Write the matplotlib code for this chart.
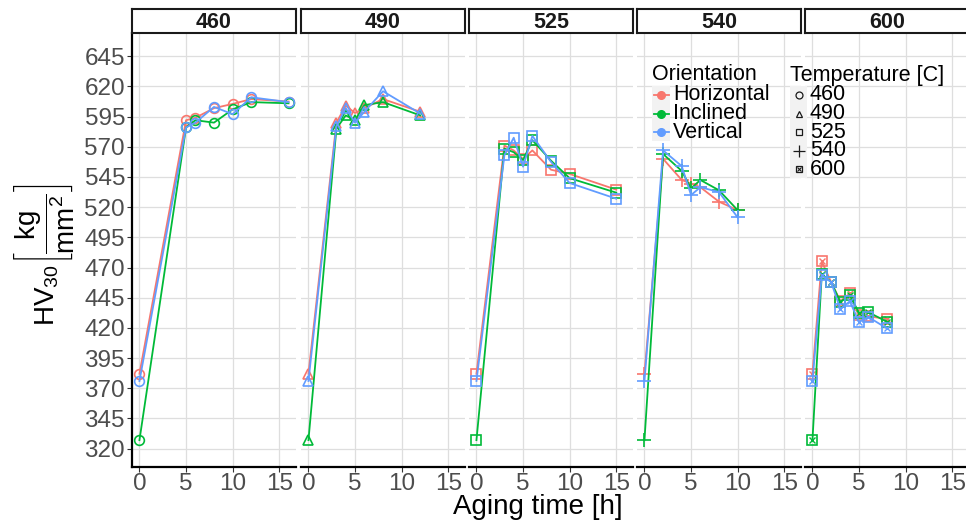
import matplotlib
matplotlib.use("Agg")
import matplotlib.pyplot as plt
from matplotlib.lines import Line2D
from matplotlib.patches import Rectangle

plt.rcParams['font.family'] = ['Liberation Sans', 'DejaVu Sans']
plt.rcParams['mathtext.fontset'] = 'custom'
plt.rcParams['mathtext.rm'] = 'Liberation Sans'
plt.rcParams['mathtext.it'] = 'Liberation Sans:italic'
plt.rcParams['mathtext.bf'] = 'Liberation Sans:bold'

# ---- data: hardness HV30 vs aging time, per aging temperature ----
temperatures = ["460", "490", "525", "540", "600"]
orientations = ["Horizontal", "Inclined", "Vertical"]

time_460 = [0, 5, 6, 8, 10, 12, 16]
hv_460_horizontal = [382, 592, 594, 602, 605.5, 609.5, 607.5]
hv_460_inclined = [327, 586, 592, 590, 601, 607, 606]
hv_460_vertical = [376, 586, 590, 603, 597, 611, 607]

time_490 = [0, 3, 4, 5, 6, 8, 12]
hv_490_horizontal = [382, 590, 604, 598, 602, 609.5, 599]
hv_490_inclined = [327, 585, 596, 592, 604.5, 607, 596]
hv_490_vertical = [376, 587, 602, 590, 599, 616, 597.5]

time_525 = [0, 3, 4, 5, 6, 8, 10, 15]
hv_525_horizontal = [382, 571, 567, 560, 567, 551, 547.5, 534.5]
hv_525_inclined = [327, 568.5, 565.5, 559, 575.5, 558.5, 544, 532]
hv_525_vertical = [376, 563, 577.5, 553.5, 579, 557.5, 540, 527]

time_540 = [0, 2, 4, 5, 6, 8, 10]
hv_540_horizontal = [382, 560, 542.5, 539.5, 536.5, 524.5, 517.5]
hv_540_inclined = [327, 564, 550, 535.5, 542.5, 534, 517.5]
hv_540_vertical = [376, 567, 554, 530, 536.5, 532.5, 511.5]

time_600 = [0, 1, 2, 3, 4, 5, 6, 8]
hv_600_horizontal = [382, 475, 458, 442, 448.5, 430.5, 429.5, 427.5]
hv_600_inclined = [327, 464.5, 458, 441.5, 447, 432.5, 433, 425]
hv_600_vertical = [376, 463.5, 458, 435.5, 442, 425, 429, 419.5]

x_ticks = [0, 5, 10, 15]
y_ticks = list(range(320, 646, 25))

panels = {
    "460": (time_460, [hv_460_horizontal, hv_460_inclined, hv_460_vertical]),
    "490": (time_490, [hv_490_horizontal, hv_490_inclined, hv_490_vertical]),
    "525": (time_525, [hv_525_horizontal, hv_525_inclined, hv_525_vertical]),
    "540": (time_540, [hv_540_horizontal, hv_540_inclined, hv_540_vertical]),
    "600": (time_600, [hv_600_horizontal, hv_600_inclined, hv_600_vertical]),
}

colors = ["#F8766D", "#00BA38", "#619CFF"]
shapes = {"460": "o", "490": "^", "525": "s", "540": "+", "600": "s"}

W, H = 966, 522
fig = plt.figure(figsize=(W / 100, H / 100), dpi=100)
fig.patch.set_facecolor("white")

panel_left = [132, 301, 469, 637, 805]
panel_w = 164
panel_top, panel_bot = 33.3, 466.7
strip_top = 8.5

tick_color = "#4D4D4D"
grid_color = "#DEDEDE"
tick_fs = 17.5

for i, temp in enumerate(temperatures):
    x0 = panel_left[i]
    ax = fig.add_axes([x0 / W, 1 - panel_bot / H, panel_w / W, (panel_bot - panel_top) / H])
    ax.set_xlim(-0.8, 16.8)
    ax.set_ylim(305, 664)
    ax.set_xticks(x_ticks)
    ax.set_yticks(y_ticks)
    ax.grid(True, color=grid_color, linewidth=0.9)
    ax.set_axisbelow(True)
    for s in ["top", "right"]:
        ax.spines[s].set_visible(False)
    ax.spines["bottom"].set_color("black")
    ax.spines["bottom"].set_linewidth(1.6)
    if i == 0:
        ax.spines["left"].set_color("black")
        ax.spines["left"].set_linewidth(1.6)
        ax.tick_params(axis="y", labelsize=tick_fs, labelcolor=tick_color, color="#333333",
                       length=3.5, width=0.8, pad=1.5)
    else:
        ax.spines["left"].set_visible(False)
        ax.tick_params(axis="y", left=False, labelleft=False)
    ax.tick_params(axis="x", labelsize=tick_fs, labelcolor=tick_color, color="#333333",
                   length=3.5, width=0.8, pad=1.0)

    t, series = panels[temp]
    mk = shapes[temp]
    for vals, c in zip(series, colors):
        ax.plot(t, vals, color=c, linewidth=1.3, marker=mk, markersize=7 if mk != "+" else 10,
                markerfacecolor="none", markeredgecolor=c, markeredgewidth=1.2, clip_on=False,
                zorder=3)
        if temp == "600":
            ax.plot(t, vals, linestyle="none", marker="x", markersize=4.2,
                    markeredgecolor=c, markeredgewidth=1.0, zorder=3)

    # facet strip
    sax = fig.add_axes([x0 / W, 1 - panel_top / H, panel_w / W, (panel_top - strip_top) / H])
    sax.set_xticks([])
    sax.set_yticks([])
    sax.set_facecolor("white")
    for s in sax.spines.values():
        s.set_color("#1A1A1A")
        s.set_linewidth(1.5)
    sax.text(0.5, 0.45, temp, ha="center", va="center", fontsize=15.5, fontweight="bold",
             transform=sax.transAxes, color="#1A1A1A")

# axis titles
fig.text(538 / W, 1 - 507 / H, "Aging time [h]", ha="center", va="center", fontsize=20)
fig.text(44 / W, 1 - 255 / H,
         r"$\mathrm{HV}_{30}\left[\dfrac{\mathrm{kg}}{\mathrm{mm}^2}\right]$",
         ha="center", va="center", rotation=90, fontsize=20)


# ---- legends drawn in figure pixel coordinates ----
def fx(px):
    return px / W


def fy(py):
    return 1 - py / H


key_bg = "#F2F2F2"
leg_fs = 15.5

# Orientation legend
fig.text(fx(652), fy(75), "Orientation", ha="left", va="center", fontsize=leg_fs)
row_y = [95, 113.5, 132]
fig.patches.append(Rectangle((fx(652), fy(141)), (670 - 652) / W, (141 - 86) / H,
                             transform=fig.transFigure, facecolor=key_bg, edgecolor="none",
                             zorder=5))
for name, c, yy in zip(orientations, colors, row_y):
    fig.lines.append(Line2D([fx(653.5), fx(668.5)], [fy(yy), fy(yy)], color=c, linewidth=1.3,
                            transform=fig.transFigure, zorder=6))
    fig.lines.append(Line2D([fx(661)], [fy(yy)], marker="o", markersize=5.5, color=c,
                            transform=fig.transFigure, zorder=7))
    fig.text(fx(673), fy(yy), name, ha="left", va="center", fontsize=leg_fs, zorder=7)

# Temperature legend
fig.text(fx(790), fy(75), "Temperature [C]", ha="left", va="center", fontsize=leg_fs)
temp_y = [95, 113.5, 132, 150.5, 169]
fig.patches.append(Rectangle((fx(790), fy(178)), (807 - 790) / W, (178 - 86) / H,
                             transform=fig.transFigure, facecolor=key_bg, edgecolor="none",
                             zorder=5))
for temp, yy in zip(temperatures, temp_y):
    mk = shapes[temp]
    fig.lines.append(Line2D([fx(798.5)], [fy(yy)], marker=mk, linestyle="none",
                            markersize=5 if mk != "+" else 8, markerfacecolor="none",
                            markeredgecolor="#1A1A1A", markeredgewidth=0.9,
                            transform=fig.transFigure, zorder=7))
    if temp == "600":
        fig.lines.append(Line2D([fx(798.5)], [fy(yy)], marker="x", linestyle="none",
                                markersize=3.2, markeredgecolor="#1A1A1A", markeredgewidth=0.8,
                                transform=fig.transFigure, zorder=7))
    fig.text(fx(810), fy(yy), temp, ha="left", va="center", fontsize=leg_fs, zorder=7)

fig.savefig("out.png", dpi=100, facecolor="white")
